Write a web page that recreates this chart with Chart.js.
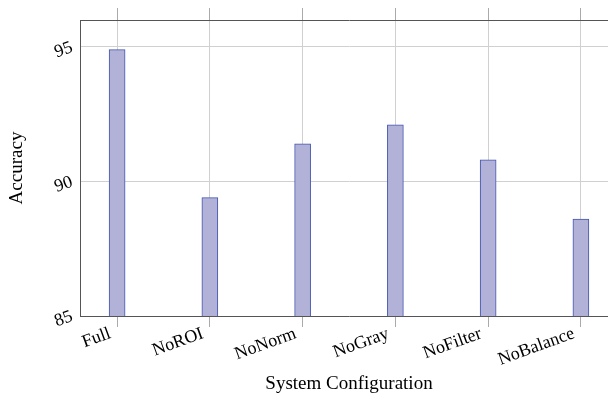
<!DOCTYPE html>
<html>
<head>
<meta charset="utf-8">
<script src="https://cdn.jsdelivr.net/npm/chart.js@4.4.1/dist/chart.umd.min.js"></script>
<style>
  html, body { margin: 0; padding: 0; background: #fff; }
  #wrap { width: 608px; height: 401px; overflow: hidden; position: relative; }
</style>
</head>
<body>
<div id="wrap"><canvas id="myChart" width="630" height="401"></canvas></div>
<script>
// categories and accuracy values
var configs = ["Full", "NoROI", "NoNorm", "NoGray", "NoFilter", "NoBalance"];
var accuracy = [94.9, 89.4, 91.4, 92.1, 90.8, 88.6];
var yTicks = [85, 90, 95];

var serif = "'Liberation Serif', 'Times New Roman', serif";
var gridCol = '#d0d0d0';
var axisCol = '#555555';

var points = configs.map(function (c, i) { return { x: i, y: accuracy[i] }; });

var ctx = document.getElementById('myChart');
var barchart = new Chart(ctx, {
  type: 'bar',
  data: {
    datasets: [{
      label: 'Accuracy',
      data: points,
      backgroundColor: 'rgb(178,178,216)',
      borderColor: '#4455b0',
      borderWidth: 1,
      barThickness: 16
    }]
  },
  options: {
    responsive: false,
    animation: false,
    devicePixelRatio: 1,
    layout: { padding: { left: 0, right: 12, top: 0, bottom: 0 } },
    plugins: { legend: { display: false }, tooltip: { enabled: false } },
    scales: {
      x: {
        type: 'linear',
        position: 'bottom',
        min: -0.4,
        max: 5.4,
        offset: false,
        grid: { offset: false, color: gridCol, tickColor: '#aaaaaa', tickLength: 11 },
        border: { color: axisCol, width: 1 },
        ticks: {
          stepSize: 1,
          includeBounds: false,
          autoSkip: false,
          minRotation: 20,
          maxRotation: 20,
          padding: -4,
          labelOffset: -7,
          color: '#000',
          font: { family: serif, size: 18 },
          callback: function (v) { return Number.isInteger(v) ? configs[v] : ''; }
        },
        title: {
          display: true,
          text: 'System Configuration',
          color: '#000',
          font: { family: serif, size: 19 },
          padding: { top: 0, bottom: 6 }
        },
        afterFit: function (s) { s.height = 85; }
      },
      x2: {
        type: 'linear',
        position: 'top',
        min: -0.4,
        max: 5.4,
        offset: false,
        grid: { offset: false, drawOnChartArea: false, color: '#aaaaaa', tickLength: 12 },
        border: { color: axisCol, width: 1 },
        ticks: { display: false, stepSize: 1, includeBounds: false },
        afterFit: function (s) { s.height = 20; }
      },
      y: {
        min: 85,
        max: 96,
        grid: { color: gridCol, drawTicks: false },
        border: { color: axisCol, width: 1 },
        afterBuildTicks: function (s) {
          s.ticks = yTicks.map(function (v) { return { value: v }; });
        },
        ticks: {
          autoSkip: false,
          minRotation: 20,
          maxRotation: 20,
          padding: 8,
          color: '#000',
          font: { family: serif, size: 18 }
        },
        title: {
          display: true,
          text: 'Accuracy',
          color: '#000',
          font: { family: serif, size: 19 },
          padding: { top: 6, bottom: 0 }
        },
        afterFit: function (s) { s.width = 80; }
      }
    }
  }
});
</script>
</body>
</html>
